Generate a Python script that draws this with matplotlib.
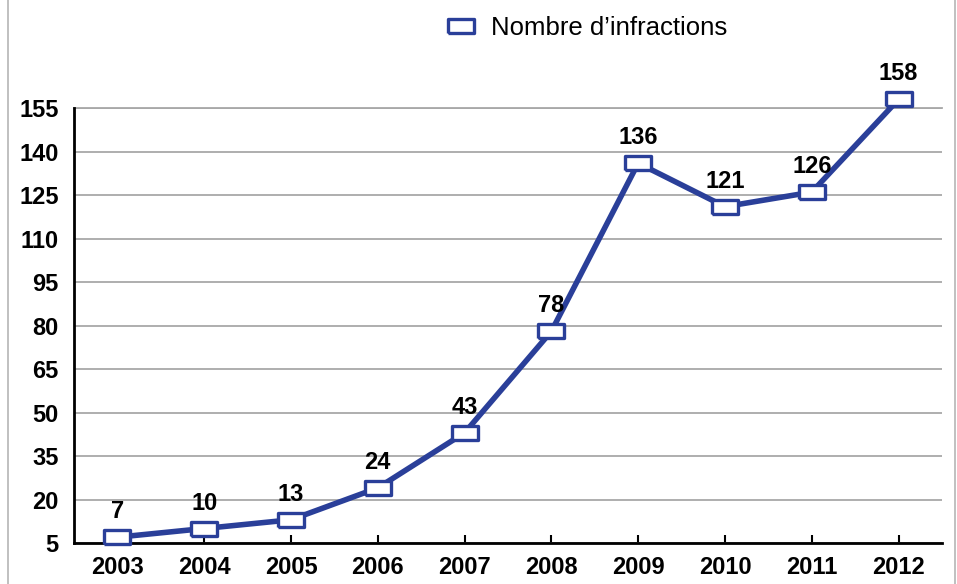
import matplotlib

matplotlib.use("Agg")
import matplotlib.pyplot as plt  # noqa: E402
from matplotlib.lines import Line2D

plt.rcParams["font.family"] = ["Liberation Sans", "DejaVu Sans"]

BLUE = "#2a3f99"
GRID = "#a8a8a8"

years = ["2003", "2004", "2005", "2006", "2007", "2008", "2009", "2010", "2011", "2012"]
infractions = [7, 10, 13, 24, 43, 78, 136, 121, 126, 158]
y_ticks = [5, 20, 35, 50, 65, 80, 95, 110, 125, 140, 155]

# hollow rectangle marker, twice as wide as tall
rect = [(-1, -0.5), (1, -0.5), (1, 0.5), (-1, 0.5), (-1, -0.5)]

fig = plt.figure(figsize=(9.57, 5.84), dpi=100)
ax = fig.add_axes([0.0773, 0.0702, 0.9070, 0.7448])

x = list(range(len(years)))
ax.plot(
    x,
    infractions,
    color=BLUE,
    lw=4,
    marker=rect,
    markersize=19,
    markerfacecolor="white",
    markeredgecolor=BLUE,
    markeredgewidth=2.4,
    clip_on=False,
    zorder=3,
    label="Nombre d\u2019infractions",
)

for xi, v in zip(x, infractions):
    ax.annotate(
        str(v),
        (xi, v),
        xytext=(0, 10),
        textcoords="offset points",
        ha="center",
        va="bottom",
        fontsize=17,
        fontweight="bold",
        color="black",
        annotation_clip=False,
    )

ax.set_xlim(-0.5, len(years) - 0.5)
ax.set_ylim(5, 155)
ax.set_xticks(x)
ax.set_xticklabels(years, fontsize=17, fontweight="bold")
ax.set_yticks(y_ticks)
ax.set_yticklabels([str(t) for t in y_ticks], fontsize=17, fontweight="bold")
ax.tick_params(axis="x", direction="in", length=6, width=1.5, pad=9)
ax.tick_params(axis="y", length=0, pad=11)
ax.yaxis.grid(True, color=GRID, lw=1.3)
ax.set_axisbelow(True)
for side in ("top", "right"):
    ax.spines[side].set_visible(False)
for side in ("left", "bottom"):
    ax.spines[side].set_linewidth(2)
    ax.spines[side].set_color("black")

# top gridline at 155 drawn like the others
ax.axhline(155, color=GRID, lw=1.3, zorder=0, clip_on=False)

ax.legend(
    loc="center",
    bbox_to_anchor=(0.591, 1.185),
    frameon=False,
    fontsize=18.5,
    handlelength=1.1,
    handletextpad=0.6,
    numpoints=1,
    markerscale=1.0,
)
leg = ax.get_legend()
for h in leg.legend_handles:
    h.set_linestyle("none")

# thin page border on both sides
fig.add_artist(Line2D([8 / 957, 8 / 957], [0, 1], color="#b5b5b5", lw=1.2))
fig.add_artist(Line2D([955 / 957, 955 / 957], [0, 1], color="#b5b5b5", lw=1.2))

fig.savefig("out.png", dpi=100, facecolor="white")
